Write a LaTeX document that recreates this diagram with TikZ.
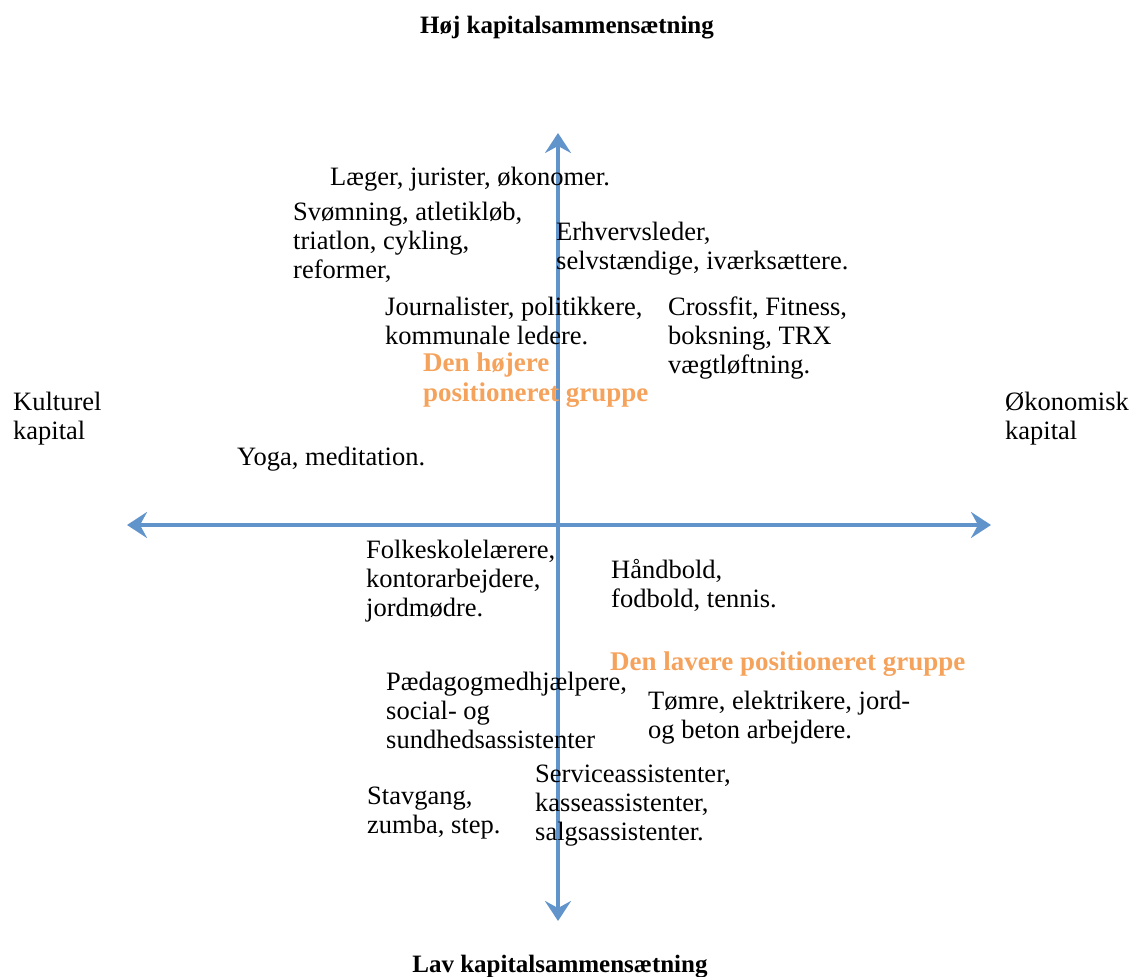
\documentclass[tikz,border=0pt]{standalone}
\usepackage{fontspec}
\setmainfont{Liberation Serif}
\usetikzlibrary{arrows.meta}
\definecolor{axisblue}{RGB}{98,148,204}
\definecolor{grouporange}{RGB}{245,163,92}
\tikzset{
  lab/.style={anchor=base west,inner sep=0pt,align=left,font=\fontsize{26.5}{29}\selectfont},
  grp/.style={lab,text=grouporange,font=\fontsize{27}{30}\selectfont\bfseries},
  ttl/.style={anchor=base,inner sep=0pt,font=\fontsize{25}{28}\selectfont\bfseries},
  axis/.style={axisblue,line width=4pt,-{Stealth[length=20pt,width=26pt,inset=7pt]}}
}
\begin{document}
\begin{tikzpicture}[x=1pt,y=-1pt]
\useasboundingbox (0,0) rectangle (1130,977);
% axes
\coordinate (o) at (558,525);
\coordinate (top) at (558,133);
\coordinate (bot) at (558,921);
\coordinate (left) at (127,525);
\coordinate (right) at (991,525);
\draw[axis] (o) -- (top);
\draw[axis] (o) -- (bot);
\draw[axis] (o) -- (left);
\draw[axis] (o) -- (right);
% axis titles (labels placed by baseline of last line)
\node[ttl] (hoj) at (567,34) {Høj kapitalsammensætning};
\node[ttl] (lav) at (560,972) {Lav kapitalsammensætning};
\node[lab] (kult) at (13,439) {Kulturel\\kapital};
\node[lab] (oko) at (1005,439) {Økonomisk\\kapital};
% upper half
\node[lab] (laeger) at (330,185) {Læger, jurister, økonomer.};
\node[lab] (svom) at (293,278) {Svømning, atletikløb,\\triatlon, cykling,\\reformer,};
\node[lab] (erhv) at (556,269) {Erhvervsleder,\\selvstændige, iværksættere.};
\node[lab] (journ) at (385,344) {Journalister, politikkere,\\kommunale ledere.};
\node[lab] (cross) at (668,373) {Crossfit, Fitness,\\boksning, TRX\\vægtløftning.};
\node[grp] (hojgrp) at (423,401) {Den højere\\positioneret gruppe};
\node[lab] (yoga) at (237,465) {Yoga, meditation.};
% lower half
\node[lab] (folk) at (366,616) {Folkeskolelærere,\\kontorarbejdere,\\jordmødre.};
\node[lab] (hand) at (611,607) {Håndbold,\\fodbold, tennis.};
\node[grp] (lavgrp) at (610,670) {Den lavere positioneret gruppe};
\node[lab] (paed) at (386,748) {Pædagogmedhjælpere,\\social- og\\sundhedsassistenter};
\node[lab] (tomre) at (648,738) {Tømre, elektrikere, jord-\\og beton arbejdere.};
\node[lab] (stav) at (367,833) {Stavgang,\\zumba, step.};
\node[lab] (serv) at (535,840) {Serviceassistenter,\\kasseassistenter,\\salgsassistenter.};
\end{tikzpicture}
\end{document}
